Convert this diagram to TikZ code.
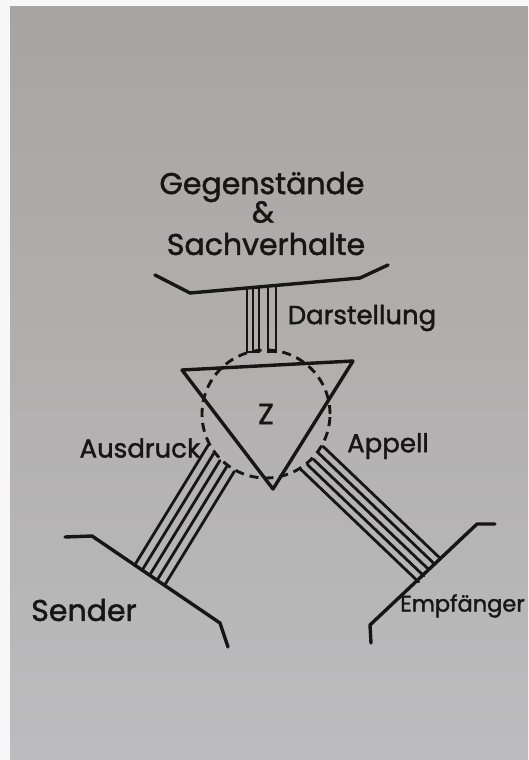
\documentclass[tikz,border=0pt]{standalone}
\usepackage{fontspec}
\setmainfont[FakeBold=1.6]{Poppins}
\usetikzlibrary{calc}

\definecolor{paperTop}{RGB}{168,164,161}
\definecolor{paperMid}{RGB}{197,197,197}
\definecolor{paperBot}{RGB}{188,188,190}
\definecolor{penInk}{RGB}{22,22,22}

\tikzset{
  pen/.style={draw=penInk, line width=3.4pt, line cap=round, line join=round},
  barline/.style={draw=penInk, line width=2.8pt, line cap=round},
  zeichenkreis/.style={circle, draw=penInk, line width=2.9pt, dash pattern=on 9pt off 6pt,
    minimum size=128pt, inner sep=0pt},
  hand/.style={text=penInk, inner sep=0pt},
}
\newcommand{\grossSchrift}{\fontsize{30}{32}\selectfont}
\newcommand{\mittelSchrift}{\fontsize{26}{28}\selectfont}

\begin{document}
\begin{tikzpicture}
% Organon model, traced in pixel units of the photo
\def\pxsz{1pt}
\begin{scope}[x=\pxsz, y=-\pxsz]
  \useasboundingbox (0,0) rectangle (528,760);
  % Paper with a white margin at the left and top
  \fill[white!94!gray] (0,0) rectangle (528,760);
  \shade[top color=paperTop, middle color=paperMid, bottom color=paperBot] (10,7) rectangle (528,760);
  % Sign Z: dashed circle and triangle
  \node[zeichenkreis, hand, font=\fontsize{29}{30}\selectfont] (zeichen) at (266,414) {Z};
  \coordinate (dreieckL) at (182,370);
  \coordinate (dreieckR) at (353,361);
  \coordinate (dreieckU) at (273,489);
  \draw[pen] (dreieckL) -- (dreieckR) -- (dreieckU) -- cycle;
  % Gegenstaende & Sachverhalte
  \coordinate (gegA) at (155,275);
  \coordinate (gegB) at (190,293);
  \coordinate (gegC) at (360,278);
  \coordinate (gegD) at (388,265);
  \draw[pen] (gegA) -- (gegB) -- (gegC) -- (gegD);
  % Sender
  \coordinate (senA) at (65,537);
  \coordinate (senB) at (92,536);
  \coordinate (senC) at (220,623);
  \coordinate (senD) at (228,647);
  \draw[pen] (senA) -- (senB) -- (senC) -- (senD);
  % Empfaenger
  \coordinate (empA) at (495,524);
  \coordinate (empB) at (477,524);
  \coordinate (empC) at (370,625);
  \coordinate (empD) at (371,643);
  \draw[pen] (empA) -- (empB) -- (empC) -- (empD);
  % Darstellung bars
  \foreach \d in {-19,-13,-7,2,10}
    \draw[barline] ($(zeichen.center)+(\d,-62)$) -- ($(zeichen.center)+(-90:{127.7+0.088*(\d)})+(0:\d)$);
  \draw[barline] ($(zeichen.center)+(-19,-62)$) -- ($(zeichen.center)+(-7,-62)$);
  \draw[barline] ($(zeichen.center)+(2,-62)$) -- ($(zeichen.center)+(10,-62)$);
  % Ausdruck bars
  \foreach \d in {-3,6,15,24,33}
    \draw[barline] ($(zeichen.center)+(211.5:\d)+(121.5:{sqrt(64*64-(\d)*(\d))+1.5})$)
      -- ($(zeichen.center)+(211.5:\d)+(121.5:{199-0.05*(\d)})$);
  % Appell bars
  \foreach \d in {-16,-8,0,8,16}
    \draw[barline] ($(zeichen.center)+(133.7:\d)+(43.7:{sqrt(64*64-(\d)*(\d))+1.5})$)
      -- ($(zeichen.center)+(133.7:\d)+(43.7:{225.5+0.05*(\d)})$);
  % Labels
  \node[hand, font=\grossSchrift] (gegen) at (262,187) {Gegenstände};
  \node[hand, font=\grossSchrift] (und) at (263,212) {\&};
  \node[hand, font=\grossSchrift] (sach) at (266,244) {Sachverhalte};
  \node[hand, font=\mittelSchrift] (darst) at (362,318) {Darstellung};
  \node[hand, font=\mittelSchrift] (ausdr) at (140,448) {Ausdruck};
  \node[hand, font=\mittelSchrift] (appell) at (388,446) {Appell};
  \node[hand, font=\grossSchrift] (sender) at (84,610) {Sender};
  \node[hand, font=\fontsize{22.5}{24}\selectfont, anchor=west] (empf) at (400,606) {Empfänger};
\end{scope}
\end{tikzpicture}
\end{document}
